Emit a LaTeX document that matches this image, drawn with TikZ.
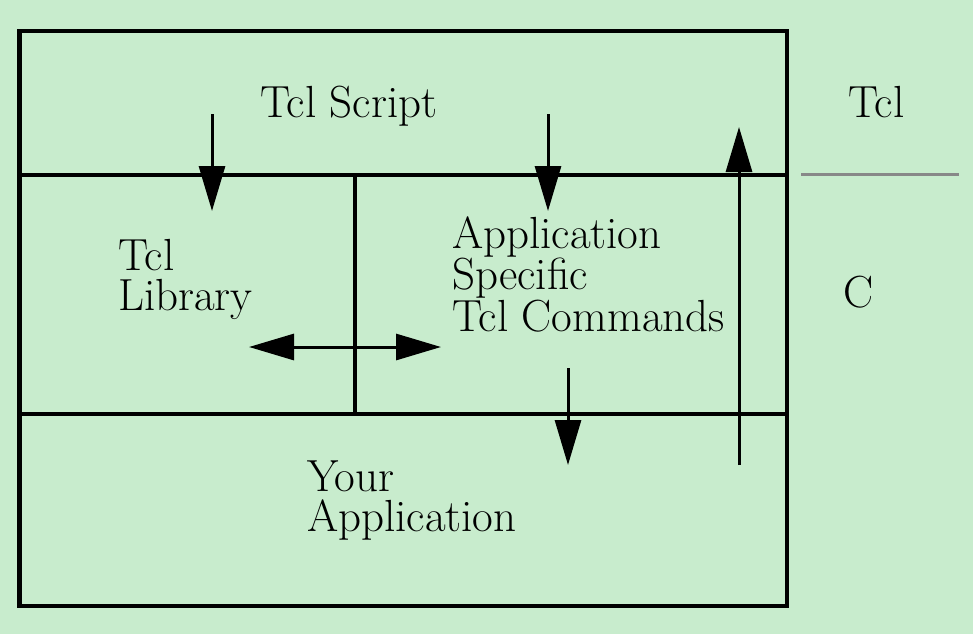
\documentclass[tikz,border=0pt]{standalone}
\usepackage{fontspec}
\usetikzlibrary{arrows.meta}
\definecolor{bgcol}{RGB}{200,236,205}
\definecolor{sepgray}{RGB}{136,136,136}
\tikzset{
  frame/.style={line width=4.5pt, line cap=rect},
  flow/.style={line width=3pt, -{Triangle[length=45pt,width=26pt]}},
  both/.style={line width=3pt, {Triangle[length=45pt,width=26pt]}-{Triangle[length=45pt,width=26pt]}},
  lbl/.style={inner sep=0pt, anchor=base west, align=left, font=\fontsize{45pt}{39.5pt}\selectfont},
}
\begin{document}
\begin{tikzpicture}[x=1pt,y=-1pt]
\fill[bgcol] (0,0) rectangle (973,634);
\useasboundingbox (0,0) rectangle (973,634);
% frame
\coordinate (tl) at (19.5,31);
\coordinate (br) at (787,606);
\coordinate (h1l) at (19.5,175);
\coordinate (h1r) at (787,175);
\coordinate (h2l) at (19.5,414);
\coordinate (h2r) at (787,414);
\coordinate (vt) at (355,175);
\coordinate (vb) at (355,414);
\draw[frame] (tl) rectangle (br);
\draw[frame] (h1l) -- (h1r);
\draw[frame] (h2l) -- (h2r);
\draw[frame] (vt) -- (vb);
% separator Tcl / C
\coordinate (sl) at (801,174);
\coordinate (sr) at (959,174);
\draw[line width=3pt, sepgray] (sl) -- (sr);
% labels (base = baseline of last line)
\node[lbl] (script) at (260,117) {Tcl Script};
\node[lbl] (lib) at (118,310) {Tcl\\Library};
\node[lbl] (cmds) at (452,331) {Application\\Specific\\Tcl Commands};
\node[lbl] (app) at (307,531) {Your\\Application};
\node[lbl] (tcl) at (848,117) {Tcl};
\node[lbl] (c) at (843,307) {C};
% arrows
\coordinate (a1s) at (212,114); \coordinate (a1e) at (212,211);
\coordinate (a2s) at (548,114); \coordinate (a2e) at (548,211);
\coordinate (a3s) at (568,368); \coordinate (a3e) at (568,465);
\coordinate (a4s) at (739,465); \coordinate (a4e) at (739,127);
\coordinate (dl) at (249,347);  \coordinate (dr) at (441,347);
\draw[flow] (a1s) -- (a1e);
\draw[flow] (a2s) -- (a2e);
\draw[flow] (a3s) -- (a3e);
\draw[flow] (a4s) -- (a4e);
\draw[both] (dl) -- (dr);
\end{tikzpicture}
\end{document}
